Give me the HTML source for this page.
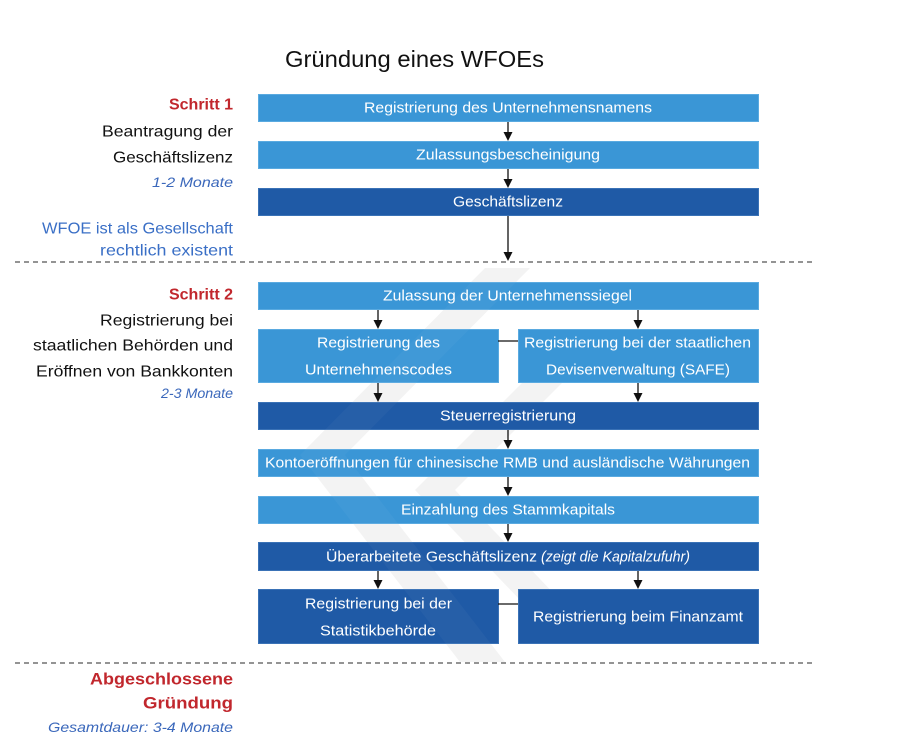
<!DOCTYPE html>
<html>
<head>
<meta charset="utf-8">
<style>
html,body{margin:0;padding:0;background:#fff;}
svg{display:block;}
text{font-family:"Liberation Sans",sans-serif;}
</style>
</head>
<body>
<svg width="900" height="747" viewBox="0 0 900 747" xmlns="http://www.w3.org/2000/svg">
<rect width="900" height="747" fill="#fff"/>

<!-- watermark -->
<g fill="#f3f3f3">
<polygon points="485,268 530,268 345,455 505,662 460,662 300,455"/>
<polygon points="575,330 615,330 455,490 560,600 520,600 415,490"/>
</g>

<!-- title -->
<text x="285" y="67" font-size="23" fill="#111" textLength="259" lengthAdjust="spacingAndGlyphs">Gründung eines WFOEs</text>

<!-- dashed lines -->
<line x1="15" y1="262" x2="813" y2="262" stroke="#555" stroke-width="1.2" stroke-dasharray="5,4"/>
<line x1="15" y1="663" x2="813" y2="663" stroke="#555" stroke-width="1.2" stroke-dasharray="5,4"/>

<!-- boxes -->
<g stroke-width="1">
<rect x="258.5" y="94.5" width="500" height="27" fill="#3a96d6" stroke="#5aaae0"/>
<rect x="258.5" y="141.5" width="500" height="27" fill="#3a96d6" stroke="#5aaae0"/>
<rect x="258.5" y="188.5" width="500" height="27" fill="#1f5aa6" stroke="#3a72b6"/>
<rect x="258.5" y="282.5" width="500" height="27" fill="#3a96d6" stroke="#5aaae0"/>
<rect x="258.5" y="329.5" width="240" height="53" fill="#3a96d6" stroke="#5aaae0"/>
<rect x="518.5" y="329.5" width="240" height="53" fill="#3a96d6" stroke="#5aaae0"/>
<rect x="258.5" y="402.5" width="500" height="27" fill="#1f5aa6" stroke="#3a72b6"/>
<rect x="258.5" y="449.5" width="500" height="27" fill="#3a96d6" stroke="#5aaae0"/>
<rect x="258.5" y="496.5" width="500" height="27" fill="#3a96d6" stroke="#5aaae0"/>
<rect x="258.5" y="542.5" width="500" height="28" fill="#1f5aa6" stroke="#3a72b6"/>
<rect x="258.5" y="589.5" width="240" height="54" fill="#1f5aa6" stroke="#3a72b6"/>
<rect x="518.5" y="589.5" width="240" height="54" fill="#1f5aa6" stroke="#3a72b6"/>
</g>

<!-- subtle watermark overlay on boxes -->
<g fill="#ffffff" opacity="0.03">
<polygon points="485,268 530,268 345,455 505,662 460,662 300,455"/>
</g>

<!-- connectors -->
<g stroke="#111" stroke-width="1.3">
<line x1="498" y1="341" x2="518" y2="341"/>
<line x1="498" y1="604" x2="518" y2="604"/>
<line x1="508" y1="122" x2="508" y2="133"/>
<line x1="508" y1="169" x2="508" y2="180"/>
<line x1="508" y1="216" x2="508" y2="253"/>
<line x1="378" y1="310" x2="378" y2="321"/>
<line x1="638" y1="310" x2="638" y2="321"/>
<line x1="378" y1="383" x2="378" y2="394"/>
<line x1="638" y1="383" x2="638" y2="394"/>
<line x1="508" y1="430" x2="508" y2="441"/>
<line x1="508" y1="477" x2="508" y2="488"/>
<line x1="508" y1="524" x2="508" y2="534"/>
<line x1="378" y1="571" x2="378" y2="581"/>
<line x1="638" y1="571" x2="638" y2="581"/>
</g>
<g fill="#111">
<polygon points="503.5,132 512.5,132 508,141"/>
<polygon points="503.5,179 512.5,179 508,188"/>
<polygon points="503.5,252 512.5,252 508,261"/>
<polygon points="373.5,320 382.5,320 378,329"/>
<polygon points="633.5,320 642.5,320 638,329"/>
<polygon points="373.5,393 382.5,393 378,402"/>
<polygon points="633.5,393 642.5,393 638,402"/>
<polygon points="503.5,440 512.5,440 508,449"/>
<polygon points="503.5,487 512.5,487 508,496"/>
<polygon points="503.5,533 512.5,533 508,542"/>
<polygon points="373.5,580 382.5,580 378,589"/>
<polygon points="633.5,580 642.5,580 638,589"/>
</g>

<!-- box texts -->
<g fill="#fff" font-size="15" dominant-baseline="central">
<text x="364" y="108" textLength="288" lengthAdjust="spacingAndGlyphs">Registrierung des Unternehmensnamens</text>
<text x="416" y="155" textLength="184" lengthAdjust="spacingAndGlyphs">Zulassungsbescheinigung</text>
<text x="453" y="202" textLength="110" lengthAdjust="spacingAndGlyphs">Geschäftslizenz</text>
<text x="383" y="296" textLength="249" lengthAdjust="spacingAndGlyphs">Zulassung der Unternehmenssiegel</text>
<text x="317" y="343" textLength="123" lengthAdjust="spacingAndGlyphs">Registrierung des</text>
<text x="305" y="370" textLength="147" lengthAdjust="spacingAndGlyphs">Unternehmenscodes</text>
<text x="524" y="343" textLength="227" lengthAdjust="spacingAndGlyphs">Registrierung bei der staatlichen</text>
<text x="546" y="370" textLength="184" lengthAdjust="spacingAndGlyphs">Devisenverwaltung (SAFE)</text>
<text x="440" y="416" textLength="136" lengthAdjust="spacingAndGlyphs">Steuerregistrierung</text>
<text x="265" y="463" textLength="485" lengthAdjust="spacingAndGlyphs">Kontoeröffnungen für chinesische RMB und ausländische Währungen</text>
<text x="401" y="510" textLength="214" lengthAdjust="spacingAndGlyphs">Einzahlung des Stammkapitals</text>
<text x="326" y="557" textLength="211" lengthAdjust="spacingAndGlyphs">Überarbeitete Geschäftslizenz</text>
<text x="541" y="557" font-style="italic" textLength="149" lengthAdjust="spacingAndGlyphs">(zeigt die Kapitalzufuhr)</text>
<text x="305" y="604" textLength="147" lengthAdjust="spacingAndGlyphs">Registrierung bei der</text>
<text x="320" y="631" textLength="116" lengthAdjust="spacingAndGlyphs">Statistikbehörde</text>
<text x="533" y="617" textLength="210" lengthAdjust="spacingAndGlyphs">Registrierung beim Finanzamt</text>
</g>

<!-- left labels -->
<g dominant-baseline="central" text-anchor="end">
<text x="233" y="105" font-size="16" font-weight="bold" fill="#c1272d">Schritt 1</text>
<text x="233" y="132" font-size="16" fill="#111" textLength="131" lengthAdjust="spacingAndGlyphs">Beantragung der</text>
<text x="233" y="158" font-size="16" fill="#111" textLength="120" lengthAdjust="spacingAndGlyphs">Geschäftslizenz</text>
<text x="233" y="182" font-size="14" font-style="italic" fill="#3b68bb" textLength="81" lengthAdjust="spacingAndGlyphs">1-2 Monate</text>
<text x="233" y="229" font-size="16" fill="#3a6fc6" textLength="191" lengthAdjust="spacingAndGlyphs">WFOE ist als Gesellschaft</text>
<text x="233" y="251" font-size="16" fill="#3a6fc6" textLength="133" lengthAdjust="spacingAndGlyphs">rechtlich existent</text>

<text x="233" y="295" font-size="16" font-weight="bold" fill="#c1272d">Schritt 2</text>
<text x="233" y="321" font-size="16" fill="#111" textLength="133" lengthAdjust="spacingAndGlyphs">Registrierung bei</text>
<text x="233" y="346" font-size="16" fill="#111" textLength="200" lengthAdjust="spacingAndGlyphs">staatlichen Behörden und</text>
<text x="233" y="372" font-size="16" fill="#111" textLength="197" lengthAdjust="spacingAndGlyphs">Eröffnen von Bankkonten</text>
<text x="233" y="393" font-size="14" font-style="italic" fill="#3b68bb" textLength="72" lengthAdjust="spacingAndGlyphs">2-3 Monate</text>

<text x="233" y="679" font-size="17" font-weight="bold" fill="#c1272d" textLength="143" lengthAdjust="spacingAndGlyphs">Abgeschlossene</text>
<text x="233" y="703" font-size="17" font-weight="bold" fill="#c1272d" textLength="90" lengthAdjust="spacingAndGlyphs">Gründung</text>
<text x="233" y="727" font-size="14" font-style="italic" fill="#3b68bb" textLength="185" lengthAdjust="spacingAndGlyphs">Gesamtdauer: 3-4 Monate</text>
</g>
</svg>
</body>
</html>
